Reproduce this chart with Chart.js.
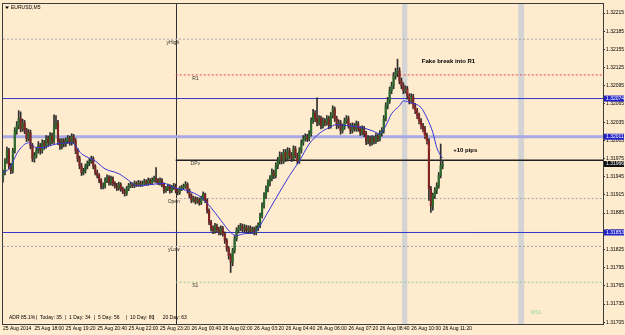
<!DOCTYPE html>
<html><head><meta charset="utf-8">
<script src="https://cdn.jsdelivr.net/npm/chart.js@4.4.0/dist/chart.umd.min.js"></script>
<style>
html,body{margin:0;padding:0;background:#FFEBCD;overflow:hidden;}
canvas{display:block;}
</style></head><body>
<canvas id="c" width="625" height="335"></canvas>
<script>
// ---- EURUSD M5 candles (bar index 0 = 25 Aug 16:40) ----
const openP = [
1.31940,1.31952,1.31971,1.31988,1.31963,1.31955,1.31988,1.32021,1.32029,1.32041,
1.32024,1.32034,1.32021,1.32008,1.32018,1.31996,1.31975,1.31980,1.31988,1.31996,
1.31988,1.32001,1.31996,1.32008,1.32001,1.32013,1.32004,1.32029,1.32034,1.32004,
1.31996,1.32004,1.31999,1.32004,1.32008,1.32001,1.32011,1.32004,1.31988,1.31975,
1.31963,1.31952,1.31955,1.31962,1.31967,1.31971,1.31975,1.31962,1.31952,1.31947,
1.31939,1.31929,1.31930,1.31939,1.31944,1.31935,1.31942,1.31934,1.31930,1.31927,
1.31932,1.31925,1.31922,1.31917,1.31925,1.31930,1.31932,1.31930,1.31934,1.31932,
1.31935,1.31932,1.31934,1.31937,1.31934,1.31939,1.31935,1.31939,1.31942,1.31939,
1.31935,1.31939,1.31932,1.31922,1.31925,1.31929,1.31922,1.31927,1.31930,1.31922,
1.31919,1.31925,1.31927,1.31929,1.31932,1.31922,1.31914,1.31906,1.31909,1.31904,
1.31907,1.31902,1.31909,1.31916,1.31906,1.31889,1.31870,1.31860,1.31856,1.31863,
1.31858,1.31853,1.31860,1.31851,1.31840,1.31827,1.31815,1.31804,1.31823,1.31843,
1.31856,1.31860,1.31863,1.31858,1.31861,1.31856,1.31860,1.31855,1.31858,1.31853,
1.31860,1.31865,1.31881,1.31897,1.31914,1.31925,1.31935,1.31942,1.31952,1.31947,
1.31963,1.31971,1.31980,1.31971,1.31985,1.31975,1.31988,1.31980,1.31975,1.31991,
1.31980,1.31971,1.31988,1.32001,1.32008,1.32011,1.32008,1.32016,1.32037,1.32050,
1.32041,1.32034,1.32041,1.32029,1.32037,1.32034,1.32041,1.32029,1.32046,1.32057,
1.32041,1.32029,1.32034,1.32021,1.32027,1.32037,1.32041,1.32029,1.32021,1.32029,
1.32024,1.32032,1.32024,1.32018,1.32024,1.32016,1.32004,1.32008,1.32001,1.32008,
1.32004,1.32011,1.32008,1.32016,1.32021,1.32041,1.32062,1.32070,1.32087,1.32095,
1.32111,1.32116,1.32120,1.32103,1.32095,1.32087,1.32090,1.32078,1.32070,1.32077,
1.32062,1.32054,1.32046,1.32037,1.32029,1.32024,1.32013,1.32004,1.31925,1.31897,
1.31914,1.31922,1.31930,1.31947,1.31963];
const highP = [
1.31956,1.31975,1.31994,1.31992,1.31967,1.31992,1.32026,1.32036,1.32054,1.32052,
1.32040,1.32038,1.32025,1.32023,1.32022,1.32000,1.31985,1.31993,1.32003,1.32000,
1.32006,1.32005,1.32013,1.32012,1.32018,1.32017,1.32047,1.32046,1.32038,1.32008,
1.32008,1.32008,1.32009,1.32013,1.32012,1.32016,1.32015,1.32008,1.31992,1.31979,
1.31967,1.31959,1.31966,1.31971,1.31975,1.31979,1.31978,1.31965,1.31956,1.31950,
1.31942,1.31935,1.31943,1.31948,1.31947,1.31946,1.31945,1.31937,1.31934,1.31936,
1.31935,1.31928,1.31925,1.31929,1.31934,1.31936,1.31935,1.31938,1.31937,1.31939,
1.31938,1.31938,1.31941,1.31940,1.31943,1.31942,1.31943,1.31946,1.31960,1.31942,
1.31943,1.31942,1.31935,1.31929,1.31933,1.31932,1.31931,1.31934,1.31933,1.31925,
1.31929,1.31931,1.31933,1.31937,1.31935,1.31925,1.31917,1.31913,1.31912,1.31911,
1.31910,1.31913,1.31920,1.31918,1.31909,1.31892,1.31873,1.31864,1.31868,1.31867,
1.31862,1.31864,1.31863,1.31854,1.31843,1.31830,1.31818,1.31827,1.31848,1.31861,
1.31865,1.31868,1.31867,1.31866,1.31865,1.31864,1.31864,1.31862,1.31862,1.31864,
1.31869,1.31885,1.31902,1.31919,1.31930,1.31940,1.31947,1.31958,1.31956,1.31968,
1.31977,1.31986,1.31985,1.31990,1.31990,1.31993,1.31992,1.31985,1.31996,1.31995,
1.31984,1.31993,1.32006,1.32013,1.32016,1.32015,1.32021,1.32042,1.32056,1.32054,
1.32075,1.32046,1.32045,1.32042,1.32041,1.32046,1.32045,1.32051,1.32062,1.32060,
1.32045,1.32039,1.32038,1.32032,1.32042,1.32046,1.32045,1.32033,1.32034,1.32033,
1.32037,1.32036,1.32028,1.32029,1.32028,1.32020,1.32013,1.32012,1.32013,1.32012,
1.32016,1.32015,1.32021,1.32026,1.32046,1.32067,1.32076,1.32093,1.32101,1.32117,
1.32124,1.32139,1.32125,1.32108,1.32100,1.32095,1.32094,1.32082,1.32082,1.32081,
1.32066,1.32058,1.32050,1.32041,1.32033,1.32028,1.32017,1.32008,1.31929,1.31918,
1.31927,1.31935,1.31952,1.31999,1.31972];
const lowP = [
1.31936,1.31948,1.31967,1.31958,1.31950,1.31951,1.31984,1.32015,1.32024,1.32019,
1.32020,1.32016,1.32003,1.32004,1.31991,1.31970,1.31969,1.31976,1.31984,1.31982,
1.31984,1.31990,1.31992,1.31996,1.31997,1.31999,1.32000,1.32024,1.31998,1.31990,
1.31991,1.31994,1.31995,1.32000,1.31997,1.31997,1.32000,1.31983,1.31970,1.31958,
1.31947,1.31948,1.31951,1.31958,1.31963,1.31967,1.31958,1.31948,1.31943,1.31935,
1.31925,1.31925,1.31926,1.31935,1.31931,1.31931,1.31930,1.31926,1.31922,1.31923,
1.31921,1.31917,1.31913,1.31914,1.31922,1.31927,1.31927,1.31927,1.31929,1.31929,
1.31929,1.31929,1.31931,1.31931,1.31931,1.31932,1.31932,1.31936,1.31935,1.31932,
1.31931,1.31928,1.31918,1.31919,1.31922,1.31918,1.31919,1.31924,1.31918,1.31915,
1.31916,1.31922,1.31924,1.31926,1.31918,1.31910,1.31902,1.31903,1.31900,1.31901,
1.31898,1.31899,1.31906,1.31902,1.31885,1.31866,1.31855,1.31851,1.31852,1.31854,
1.31849,1.31849,1.31847,1.31835,1.31822,1.31809,1.31787,1.31798,1.31819,1.31839,
1.31852,1.31856,1.31854,1.31854,1.31852,1.31852,1.31851,1.31851,1.31849,1.31849,
1.31856,1.31861,1.31877,1.31893,1.31909,1.31920,1.31930,1.31938,1.31942,1.31943,
1.31958,1.31966,1.31966,1.31967,1.31970,1.31971,1.31975,1.31970,1.31971,1.31976,
1.31966,1.31967,1.31984,1.31997,1.32004,1.32003,1.32004,1.32012,1.32033,1.32036,
1.32029,1.32030,1.32024,1.32025,1.32029,1.32030,1.32024,1.32025,1.32042,1.32036,
1.32024,1.32025,1.32015,1.32017,1.32023,1.32033,1.32025,1.32016,1.32017,1.32020,
1.32020,1.32020,1.32013,1.32014,1.32011,1.31998,1.31999,1.31996,1.31997,1.31999,
1.32000,1.32003,1.32004,1.32012,1.32017,1.32037,1.32057,1.32066,1.32082,1.32090,
1.32106,1.32110,1.32098,1.32090,1.32082,1.32083,1.32073,1.32065,1.32066,1.32057,
1.32049,1.32041,1.32032,1.32024,1.32019,1.32008,1.31999,1.31906,1.31886,1.31890,
1.31909,1.31917,1.31926,1.31943,1.31958];
const closeP = [
1.31952,1.31971,1.31988,1.31963,1.31955,1.31988,1.32021,1.32029,1.32041,1.32024,
1.32034,1.32021,1.32008,1.32018,1.31996,1.31975,1.31980,1.31988,1.31996,1.31988,
1.32001,1.31996,1.32008,1.32001,1.32013,1.32004,1.32029,1.32034,1.32004,1.31996,
1.32004,1.31999,1.32004,1.32008,1.32001,1.32011,1.32004,1.31988,1.31975,1.31963,
1.31952,1.31955,1.31962,1.31967,1.31971,1.31975,1.31962,1.31952,1.31947,1.31939,
1.31929,1.31930,1.31939,1.31944,1.31935,1.31942,1.31934,1.31930,1.31927,1.31932,
1.31925,1.31922,1.31917,1.31925,1.31930,1.31932,1.31930,1.31934,1.31932,1.31935,
1.31932,1.31934,1.31937,1.31934,1.31939,1.31935,1.31939,1.31942,1.31939,1.31935,
1.31939,1.31932,1.31922,1.31925,1.31929,1.31922,1.31927,1.31930,1.31922,1.31919,
1.31925,1.31927,1.31929,1.31932,1.31922,1.31914,1.31906,1.31909,1.31904,1.31907,
1.31902,1.31909,1.31916,1.31906,1.31889,1.31870,1.31860,1.31856,1.31863,1.31858,
1.31853,1.31860,1.31851,1.31840,1.31827,1.31815,1.31804,1.31823,1.31843,1.31856,
1.31860,1.31863,1.31858,1.31861,1.31856,1.31860,1.31855,1.31858,1.31853,1.31860,
1.31865,1.31881,1.31897,1.31914,1.31925,1.31935,1.31942,1.31952,1.31947,1.31963,
1.31971,1.31980,1.31971,1.31985,1.31975,1.31988,1.31980,1.31975,1.31991,1.31980,
1.31971,1.31988,1.32001,1.32008,1.32011,1.32008,1.32016,1.32037,1.32050,1.32041,
1.32034,1.32041,1.32029,1.32037,1.32034,1.32041,1.32029,1.32046,1.32057,1.32041,
1.32029,1.32034,1.32021,1.32027,1.32037,1.32041,1.32029,1.32021,1.32029,1.32024,
1.32032,1.32024,1.32018,1.32024,1.32016,1.32004,1.32008,1.32001,1.32008,1.32004,
1.32011,1.32008,1.32016,1.32021,1.32041,1.32062,1.32070,1.32087,1.32095,1.32111,
1.32116,1.32120,1.32103,1.32095,1.32087,1.32090,1.32078,1.32070,1.32077,1.32062,
1.32054,1.32046,1.32037,1.32029,1.32024,1.32013,1.32004,1.31925,1.31897,1.31914,
1.31922,1.31930,1.31947,1.31963,1.31966];

// moving average (bar index, price)
const maBars = [0,3,8,13,17,20,27,35,40,47,52,59,64,68,82,87,94,101,106,111,116,119,123,128,130,134,139,146,151,156,161,166,170,176,183,188,192,195,198,202,204,208,213,216,219,221,223,224];
const maVals = [1.31952,1.31958,1.31988,1.32001,1.31993,1.31993,1.31999,1.32001,1.31983,1.31971,1.31958,1.31950,1.31939,1.31930,1.31934,1.31927,1.31922,1.31911,1.31894,1.31873,1.31853,1.31848,1.31851,1.31853,1.31860,1.31881,1.31909,1.31947,1.31971,1.31999,1.32016,1.32026,1.32031,1.32029,1.32026,1.32021,1.32016,1.32029,1.32049,1.32062,1.32070,1.32067,1.32059,1.32042,1.32018,1.31993,1.31980,1.31976];

// small dotted trend segments (bar index, price)
const redTrendBars = [205.9, 217.6];
const redTrendVals = [1.32087, 1.31988];
const blackTrendBars = [40.3, 45.4];
const blackTrendVals = [1.31950, 1.31975];

// axis ticks
const yTickVals = [1.31705,1.31735,1.31765,1.31795,1.31825,1.31855,1.31885,1.31915,1.31945,1.31975,1.32005,1.32035,1.32065,1.32095,1.32125,1.32155,1.32185,1.32215];
const timeTickBars = [0,16,32,48,64,80,96,112,128,144,160,176,192,208,224];
const timeTickLabels = ['25 Aug 2014','25 Aug 18:00','25 Aug 19:20','25 Aug 20:40','25 Aug 22:00','25 Aug 23:20','26 Aug 00:40','26 Aug 02:00','26 Aug 03:20','26 Aug 04:40','26 Aug 06:00','26 Aug 07:20','26 Aug 08:40','26 Aug 10:00','26 Aug 11:20'];

// horizontal levels
const levelNames  = ['yHigh','R1','','','DPv','Open','','yLow','S1'];
const levelPrices = [1.32172,1.32113,1.32074,1.32011,1.31972,1.31909,1.31853,1.31830,1.31771];
// price boxes on the right axis
const boxPrices = [1.32074,1.32011,1.31966,1.31853];

// ---- styling / layout (not data) ----
const FONT = "'Liberation Sans', Arial, sans-serif";
const X_MIN = 0, X_MAX = 305.7;
const DAY_START = 88;
const levelStyle = [
  {from:0, color:'#a8a8a8', width:1, dash:[2,2], lx:86.5, ly:1},
  {from:DAY_START, color:'#e04848', width:1, dash:[2,2], lx:98, ly:1},
  {from:0, color:'#3535c8', width:1, dash:[]},
  {from:0, color:'#a9a9e6', width:3, dash:[]},
  {from:DAY_START, color:'#202020', width:1.5, dash:[], lx:98, ly:1},
  {from:DAY_START, color:'#a8a8a8', width:1, dash:[2,2], lx:87, ly:1},
  {from:0, color:'#3535c8', width:1, dash:[]},
  {from:0, color:'#a8a8a8', width:1, dash:[2,2], lx:87, ly:1},
  {from:DAY_START, color:'#90c890', width:1, dash:[2,2], lx:98, ly:1}
];
const boxColors = ['#2222c8','#2222c8','#111111','#2222c8'];
const bands = [[203.3,206.0],[262.5,265.5]];

const bars = closeP.map((c,i)=>i);
const datasets = [];
datasets.push({type:'line', data: maBars.map((b,k)=>({x:b,y:maVals[k]})), borderColor:'#3434d8', borderWidth:1,
  pointRadius:0, cubicInterpolationMode:'monotone', order:1});
datasets.push({type:'line', data: redTrendBars.map((b,k)=>({x:b,y:redTrendVals[k]})), borderColor:'#e05050', borderWidth:1,
  borderDash:[1.5,1.5], pointRadius:0, order:2});
datasets.push({type:'line', data: blackTrendBars.map((b,k)=>({x:b,y:blackTrendVals[k]})), borderColor:'#202020', borderWidth:1,
  borderDash:[1.5,1.5], pointRadius:0, order:2});
datasets.push({type:'bar', data: bars.map(i=>({x:i,y:[openP[i],closeP[i]]})), grouped:false, barThickness:1.5, minBarLength:1,
  backgroundColor: ctx => { const i = ctx.dataIndex; return closeP[i] >= openP[i] ? '#2b6a2b' : '#7e2424'; }, order:4});
datasets.push({type:'bar', data: bars.map(i=>({x:i,y:[lowP[i],highP[i]]})), grouped:false, barThickness:1,
  backgroundColor:'#2e2e2e', order:5});
levelPrices.forEach((p,k)=>{
  const st = levelStyle[k];
  datasets.push({type:'line', data:[{x:st.from,y:p},{x:X_MAX,y:p}], borderColor:st.color, borderWidth:st.width,
    borderDash:st.dash, pointRadius:0, order:10});
});

const deco = {
  id:'deco',
  beforeDatasetsDraw(chart){
    const {ctx, chartArea:a, scales:{x}} = chart;
    ctx.save();
    ctx.fillStyle = '#d4d4d4';
    bands.forEach(b=>{ const x0=x.getPixelForValue(b[0]), x1=x.getPixelForValue(b[1]); ctx.fillRect(x0,a.top,x1-x0,a.bottom-a.top); });
    const sx = Math.round(x.getPixelForValue(DAY_START))+0.5;
    ctx.strokeStyle = '#303030'; ctx.lineWidth = 1;
    ctx.beginPath(); ctx.moveTo(sx,a.top); ctx.lineTo(sx,a.bottom); ctx.stroke();
    ctx.restore();
  },
  afterDatasetsDraw(chart){
    const {ctx, chartArea:a, scales:{x,y}} = chart;
    ctx.save();
    ctx.font = '5px '+FONT; ctx.fillStyle = '#333'; ctx.textAlign='center'; ctx.textBaseline='top';
    levelNames.forEach((n,k)=>{ if(!n) return; const st=levelStyle[k];
      ctx.fillText(n, x.getPixelForValue(st.lx), y.getPixelForValue(levelPrices[k])+st.ly); });
    ctx.font = 'bold 6px '+FONT; ctx.fillStyle = '#000'; ctx.textBaseline='middle';
    ctx.fillText('Fake break into R1', x.getPixelForValue(227), y.getPixelForValue(1.32136));
    ctx.fillText('+10 pips', x.getPixelForValue(235.5), y.getPixelForValue(1.31989));
    ctx.font = '5px '+FONT; ctx.fillStyle = '#8fdc8f';
    ctx.fillText('WS1', x.getPixelForValue(271.5), y.getPixelForValue(1.31720));
    ctx.fillStyle = '#000'; ctx.textAlign='left';
    const adr = [['ADR 85.1%',6],['|  Today: 35',33],['|  1 Day: 34',62],['|  5 Day: 56',91],['|  10 Day: 80',123],['|      20 Day: 63',150]];
    adr.forEach(t=>ctx.fillText(t[0], a.left+t[1], a.bottom-6));
    ctx.fillText('EURUSD,M5', a.left+8, a.top+4);
    ctx.beginPath(); ctx.moveTo(a.left+2,a.top+2.5); ctx.lineTo(a.left+6,a.top+2.5); ctx.lineTo(a.left+4,a.top+5); ctx.closePath(); ctx.fill();
    ctx.strokeStyle = '#3c3c3c'; ctx.lineWidth = 1;
    ctx.strokeRect(Math.round(a.left)-0.5, Math.round(a.top)-0.5, Math.round(a.right-a.left)+1, Math.round(a.bottom-a.top)+1);
    ctx.restore();
  },
  afterDraw(chart){
    const {ctx, chartArea:a, scales:{y}} = chart;
    ctx.save();
    ctx.font = '5px '+FONT; ctx.textAlign='left'; ctx.textBaseline='middle';
    boxPrices.forEach((p,k)=>{ const py = y.getPixelForValue(p);
      ctx.fillStyle = boxColors[k]; ctx.fillRect(a.right+1, py-3, 20, 6);
      ctx.fillStyle = '#fff'; ctx.fillText(p.toFixed(5), a.right+3, py); });
    ctx.restore();
  }
};

new Chart(document.getElementById('c'), {
  type:'bar',
  data:{datasets},
  options:{
    responsive:false, animation:false, devicePixelRatio:1,
    layout:{padding:{left:3, top:3, right:0, bottom:0}},
    plugins:{legend:{display:false}, tooltip:{enabled:false}},
    scales:{
      x:{type:'linear', min:X_MIN, max:X_MAX, offset:false, grid:{display:false, drawTicks:false, offset:false}, border:{display:false},
        afterBuildTicks: s => { s.ticks = timeTickBars.map(v=>({value:v})); },
        afterFit: s => { s.height = 11; },
        ticks:{autoSkip:false, maxRotation:0, minRotation:0, align:'start', padding:2, color:'#000', font:{size:5, family:FONT},
          callback:(v,idx)=>timeTickLabels[idx]}},
      y:{type:'linear', position:'right', min:1.31702, max:1.32230, grid:{display:true, drawOnChartArea:false, tickLength:2, color:'#333'}, border:{display:false},
        afterBuildTicks: s => { s.ticks = yTickVals.map(v=>({value:v})); },
        afterFit: s => { s.width = 22; },
        ticks:{autoSkip:false, padding:1, color:'#000', font:{size:5, family:FONT}, callback:v=>v.toFixed(5)}}
    }
  },
  plugins:[deco]
});
</script>
</body></html>
